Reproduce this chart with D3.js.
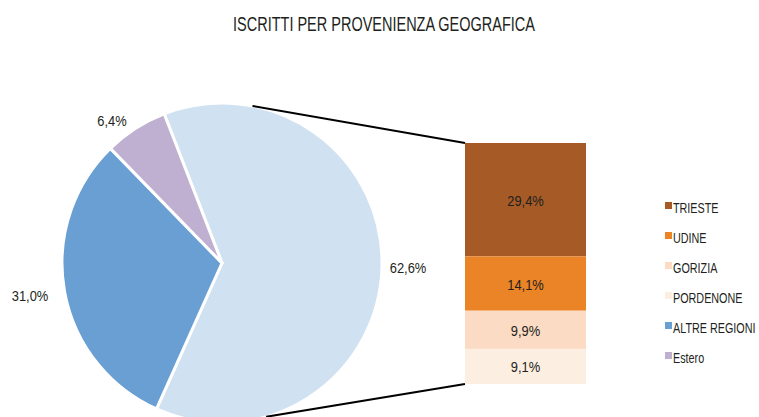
<!DOCTYPE html>
<meta charset="utf-8">
<style>
body { margin: 0; background: #fff; }
text {
  font-family: "Liberation Sans", Arial, sans-serif;
  fill: #231f20;
}
.title { font-size: 20px; }
.lbl { font-size: 15px; }
.legend text { font-size: 15px; }
.link { stroke: #000; stroke-width: 2; fill: none; }
</style>
<svg width="759" height="417"></svg>
<script src="https://cdn.jsdelivr.net/npm/d3@7"></script>
<script>

var pieNames = ["FVG", "ALTRE REGIONI", "Estero"],
    pieValues = [62.6, 31.0, 6.4],
    pieColors = ["#d0e1f2", "#6a9fd4", "#bfb0d2"];

var barNames = ["TRIESTE", "UDINE", "GORIZIA", "PORDENONE"],
    barValues = [29.4, 14.1, 9.9, 9.1],
    barColors = ["#a65b26", "#eb8426", "#fbdbc3", "#fdeee2"];

var legendNames = ["TRIESTE", "UDINE", "GORIZIA", "PORDENONE", "ALTRE REGIONI", "Estero"],
    legendColors = ["#a65b26", "#eb8426", "#fbdbc3", "#fdeee2", "#6a9fd4", "#bfb0d2"];

var svg = d3.select("svg"),
    width = +svg.attr("width"),
    height = +svg.attr("height");

var fmt = function(v) { return d3.format(".1f")(v).replace(".", ",") + "%"; };

// the original uses a condensed face; squeeze text horizontally
function place(sel, x, y, sx) {
  sel.attr("transform", function(d, i) {
    var xx = typeof x == "function" ? x(d, i) : x,
        yy = typeof y == "function" ? y(d, i) : y;
    return "translate(" + xx + "," + yy + ") scale(" + sx + ",1)";
  });
}

svg.append("text")
    .attr("class", "title")
    .attr("text-anchor", "middle")
    .text("ISCRITTI PER PROVENIENZA GEOGRAFICA")
    .call(place, 384, 31, 0.725);

// pie
var cx = 222, cy = 263, r = 160;
var startDeg = -21.2;

var pie = d3.pie()
    .sort(null)
    .startAngle(startDeg * Math.PI / 180)
    .endAngle((startDeg + 360) * Math.PI / 180);

var arc = d3.arc().innerRadius(0).outerRadius(r);

var arcs = pie(pieValues);

var gp = svg.append("g").attr("transform", "translate(" + cx + "," + cy + ")");

gp.selectAll("path")
  .data(arcs)
  .enter().append("path")
    .attr("d", arc)
    .attr("fill", function(d, i) { return pieColors[i]; })
    .attr("stroke", "#fff")
    .attr("stroke-width", 3)
    .attr("stroke-linejoin", "round");

var labelPos = [[186, 10], [-192, 38], [-110, -137]];
gp.selectAll("text.lbl")
  .data(arcs)
  .enter().append("text")
    .attr("class", "lbl")
    .attr("text-anchor", "middle")
    .text(function(d) { return fmt(d.data); })
    .call(place, function(d, i) { return labelPos[i][0]; },
                 function(d, i) { return labelPos[i][1]; }, 0.86);

// bar of pie
var barX = 465, barW = 121, barTop = 143, barBottom = 384;
var total = d3.sum(barValues);
var y = d3.scaleLinear().domain([0, total]).range([barTop, barBottom]);

var stack = [], acc = 0;
barValues.forEach(function(v, i) { stack.push({v: v, y0: acc, y1: acc + v, i: i}); acc += v; });

var gb = svg.append("g");
gb.selectAll("rect")
  .data(stack)
  .enter().append("rect")
    .attr("x", barX)
    .attr("width", barW)
    .attr("y", function(d) { return y(d.y0); })
    .attr("height", function(d) { return y(d.y1) - y(d.y0); })
    .attr("fill", function(d) { return barColors[d.i]; });

gb.selectAll("text")
  .data(stack)
  .enter().append("text")
    .attr("class", "lbl")
    .attr("text-anchor", "middle")
    .text(function(d) { return fmt(d.v); })
    .call(place, barX + barW / 2,
          function(d) { return (y(d.y0) + y(d.y1)) / 2 + 6; }, 0.86);

// connector lines from the big slice to the bar
var mid = (arcs[0].startAngle + arcs[0].endAngle) / 2;
var aTop = mid - 80.5 * Math.PI / 180,
    aBot = mid + 72.5 * Math.PI / 180;
var pTop = [cx + Math.sin(aTop) * r, cy - Math.cos(aTop) * r],
    pBot = [cx + Math.sin(aBot) * r, cy - Math.cos(aBot) * r];

svg.append("line").attr("class", "link")
    .attr("x1", pTop[0]).attr("y1", pTop[1])
    .attr("x2", barX).attr("y2", barTop);
svg.append("line").attr("class", "link")
    .attr("x1", pBot[0]).attr("y1", pBot[1])
    .attr("x2", barX).attr("y2", barBottom);

// legend
var lg = svg.append("g").attr("class", "legend")
    .attr("transform", "translate(665,202)");

var item = lg.selectAll("g")
  .data(legendNames)
  .enter().append("g")
    .attr("transform", function(d, i) { return "translate(0," + i * 30 + ")"; });

item.append("rect")
    .attr("width", 7)
    .attr("height", 7)
    .attr("fill", function(d, i) { return legendColors[i]; });

item.append("text")
    .text(function(d) { return d; })
    .call(place, 8, 11, 0.72);

</script>
